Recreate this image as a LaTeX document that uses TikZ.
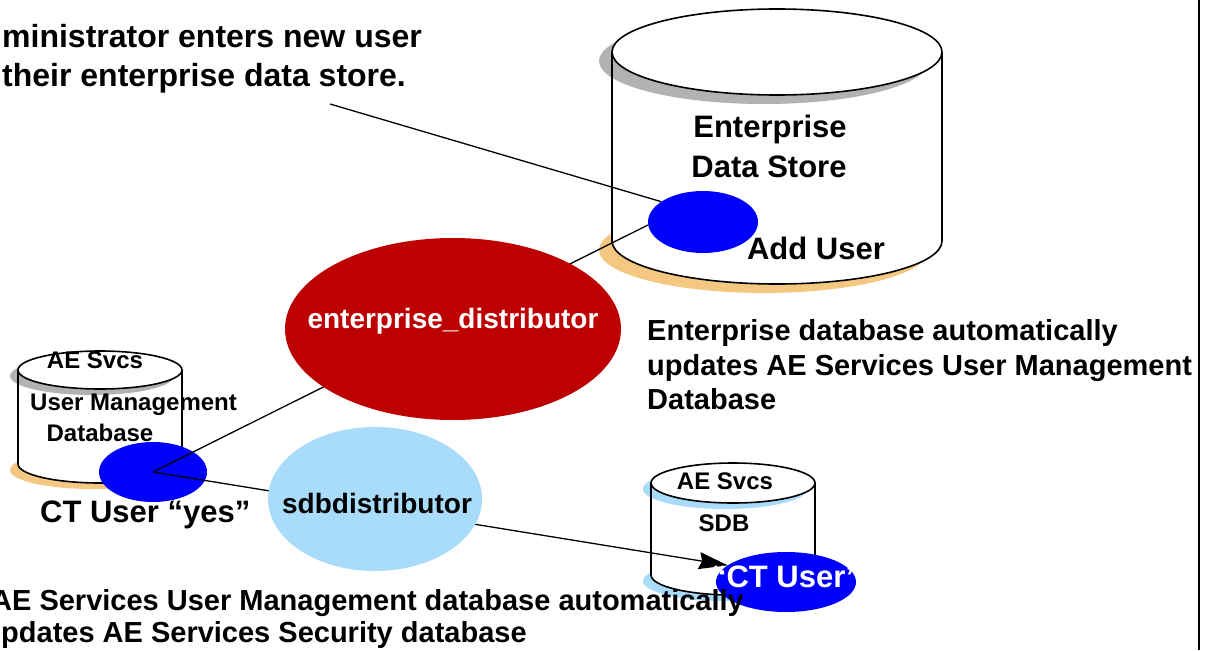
\documentclass[tikz,border=0pt]{standalone}
\usepackage{fontspec}
\setmainfont{Liberation Sans}
\usetikzlibrary{shapes.geometric,arrows.meta}
\definecolor{distred}{RGB}{189,0,0}
\definecolor{sdbblue}{RGB}{168,220,250}
\definecolor{userblue}{RGB}{0,0,255}
\definecolor{shadeorange}{RGB}{245,200,130}
\definecolor{shadegray}{RGB}{178,178,178}

\begin{document}
\begin{tikzpicture}[
    x=1pt, y=-1pt,
    txt/.style={font=\fontsize{#1}{#1}\selectfont\bfseries, inner sep=0},
    blob/.style={ellipse, inner sep=0, outer sep=0},
    link/.style={line width=1.3pt},
    rim/.style={line width=1.6pt}
    ]
    \useasboundingbox (0,0) rectangle (1214,650);
    % Enterprise data store
    \fill[shadeorange] (764,250) ellipse (165 and 43);
    \filldraw[rim, fill=white] (777,241) ellipse (165 and 43);
    \fill[white] (612,52) rectangle (942,241);
    \fill[shadegray] (764,61) ellipse (165 and 43);
    \draw[rim] (612,52) -- (612,241) (942,52) -- (942,241);
    \filldraw[rim, fill=white] (777,52) ellipse (165 and 43);
    % user management database
    \fill[shadeorange] (92,470) ellipse (82 and 19);
    \filldraw[rim, fill=white] (100,464) ellipse (82 and 19);
    \fill[white] (18,370) rectangle (182,464);
    \fill[shadegray] (92,376) ellipse (82 and 19);
    \draw[rim] (18,370) -- (18,464) (182,370) -- (182,464);
    \filldraw[rim, fill=white] (100,370) ellipse (82 and 19);
    % security database
    \fill[sdbblue] (725,581) ellipse (82 and 20);
    \filldraw[rim, fill=white] (733,575) ellipse (82 and 20);
    \fill[white] (651,483) rectangle (815,575);
    \fill[sdbblue] (725,489) ellipse (82 and 20);
    \draw[rim] (651,483) -- (651,575) (815,483) -- (815,575);
    \filldraw[rim, fill=white] (733,483) ellipse (82 and 20);

    \node[blob, fill=userblue, minimum width=108pt, minimum height=60pt] (ctyes) at (153,472) {};
    \node[blob, fill=userblue, minimum width=140pt, minimum height=60pt] (ctsdb) at (786,582) {};
    \node[blob, minimum width=110pt, minimum height=62pt] (adduser) at (703,222) {};
    \coordinate (notetip) at (330,104);

    % Lines
    \draw[link] (notetip) -- (adduser.154);
    \draw[link] (ctyes.center) -- (adduser.183);
    \draw[link, -{Stealth[length=29pt, width=17pt, inset=3pt]}] (ctyes.center) -- (ctsdb.164);

    \fill[userblue] (adduser.center) ellipse (55 and 31);
    \node[blob, fill=distred, minimum width=336pt, minimum height=182pt] (entdist) at (453,329) {};
    \node[blob, fill=sdbblue, minimum width=214pt, minimum height=144pt] (sdbdist) at (375,499) {};

    % Texts
    \node[txt=32, anchor=base west] (admin1) at (2,48) {ministrator enters new user};
    \node[txt=32, anchor=base west] (admin2) at (2,87) {their enterprise data store.};
    \node[txt=31, anchor=base] (eds1) at (770,137) {Enterprise};
    \node[txt=31, anchor=base] (eds2) at (769,177) {Data Store};
    \node[txt=31, anchor=base] (addtxt) at (816,259) {Add User};
    \node[txt=28, anchor=base, text=white] (entdisttxt) at (453,328) {enterprise\_distributor};
    \node[txt=28, anchor=base] (sdbdisttxt) at (377,513) {sdbdistributor};
    \node[txt=29, anchor=base west] (auto1) at (647,340) {Enterprise database automatically};
    \node[txt=29, anchor=base west] (auto2) at (647,375) {updates AE Services User Management};
    \node[txt=29, anchor=base west] (auto3) at (647,409) {Database};
    \node[txt=24, anchor=base] (umd1) at (95,368) {AE Svcs};
    \node[txt=24, anchor=base west] (umd2) at (30,410) {User Management};
    \node[txt=24, anchor=base] (umd3) at (100,441) {Database};
    \node[txt=31, anchor=base west] (yestxt) at (40,522) {CT User “yes”};
    \node[txt=24, anchor=base] (sdb1) at (725,489) {AE Svcs};
    \node[txt=24, anchor=base] (sdb2) at (724,531) {SDB};
    \node[txt=31, anchor=base, text=white] (ctsdbtxt) at (786,587) {“CT User”};
    \node[txt=29, anchor=base west] (sec1) at (-9,610) {AE Services User Management database automatically};
    \node[txt=29, anchor=base west] (sec2) at (1,642) {pdates AE Services Security database};

    % frame edge
    \draw[line width=2.5pt] (1199,0) -- (1199,650);
\end{tikzpicture}
\end{document}
